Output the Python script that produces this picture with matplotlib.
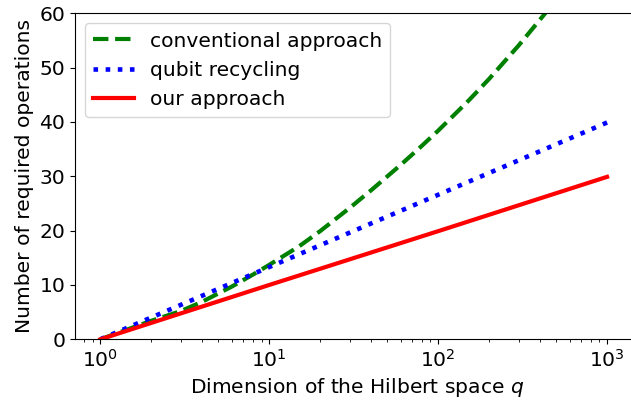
import matplotlib
matplotlib.use("Agg")
import matplotlib.pyplot as plt

plt.rcParams["font.size"] = 14.6

# values
q_conv = [1, 2, 3, 4, 6, 8, 10, 15, 20, 30, 40, 60, 80, 100, 150, 200, 300, 400, 500]
ops_conv = [0, 3.4, 5.2, 6.9, 9.7, 11.9, 13.7, 17.1, 19.9, 24.2, 27.4, 32.1, 35.6,
            38.4, 43.8, 47.9, 54.1, 58.8, 62.5]

q_recyc = [1, 10, 100, 1000]
ops_recyc = [0, 13.3, 26.6, 39.9]

q_ours = [1, 10, 100, 1000]
ops_ours = [0, 10.0, 19.9, 29.9]


def main():
    fig = plt.figure(figsize=(6.31, 4.03), dpi=100)
    # right spine sits just past the image edge, as in the reference
    ax = fig.add_axes([75 / 631, 63.7 / 403, 565 / 631, 326 / 403])

    ax.plot(q_conv, ops_conv, "--", color="green", lw=3, label="conventional approach")
    ax.plot(q_recyc, ops_recyc, ":", color="blue", lw=3.3, label="qubit recycling")
    ax.plot(q_ours, ops_ours, "-", color="red", lw=3, label="our approach")

    ax.set_xscale("log")
    ax.set_xlim(10 ** -0.15, 10 ** 3.195)
    ax.set_ylim(0, 60)
    ax.set_xlabel("Dimension of the Hilbert space $q$")
    ax.set_ylabel("Number of required operations")
    ax.legend(loc="upper left")

    fig.savefig("out.png", dpi=100)


if __name__ == "__main__":
    main()
